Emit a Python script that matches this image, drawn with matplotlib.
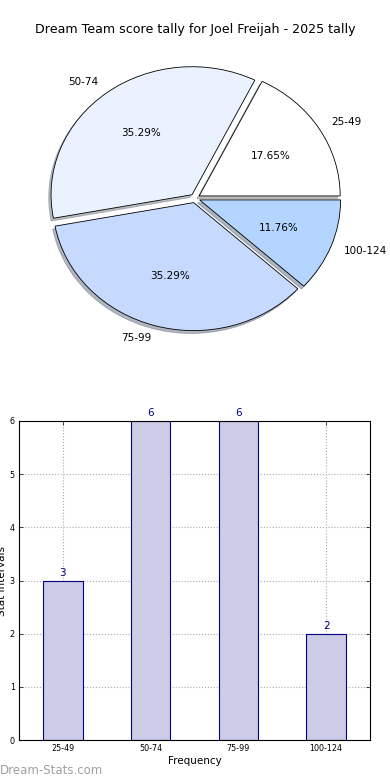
import matplotlib
matplotlib.use("Agg")
import matplotlib.pyplot as plt
import numpy as np

title = "Dream Team score tally for Joel Freijah - 2025 tally"
categories = ["25-49", "50-74", "75-99", "100-124"]
counts = [3, 6, 6, 2]
pie_colors = ["#FFFFFF", "#EAF1FF", "#C6D9FF", "#B3D5FF"]
yticks = [0, 1, 2, 3, 4, 5, 6]

W, H = 390, 780
fig = plt.figure(figsize=(W / 100, H / 100), dpi=100)

def box(l, t, r, b):
    return [l / W, 1 - b / H, (r - l) / W, (b - t) / H]

# ---- Pie ----
axp = fig.add_axes(box(0, 40, 390, 360))
rx, ry = 141.0, 128.0
cx, cy = 195.0, 198.3
axp.pie(counts, labels=categories, colors=pie_colors, autopct="%.2f%%",
        explode=[0.035] * 4,
        shadow=dict(ox=-0.012, oy=-0.016, shade=0.5),
        startangle=0, counterclock=True,
        wedgeprops=dict(edgecolor="black", linewidth=0.6),
        textprops=dict(fontsize=7.5))
axp.set_aspect("auto")
axp.set_xlim(-cx / rx, (W - cx) / rx)
axp.set_ylim(-(360 - cy) / ry, (cy - 40) / ry)
axp.axis("off")

fig.text(0.5, 1 - 30 / H, title, ha="center", va="center", fontsize=9.1)

# ---- Bar ----
axb = fig.add_axes(box(19, 421, 370, 740))
x = np.arange(len(categories))
bars = axb.bar(x, counts, width=0.45, color="#CCCCE6", edgecolor="#000080",
               linewidth=0.8, zorder=2)
for xi, v in zip(x, counts):
    axb.text(xi, v + 0.05, str(v), ha="center", va="bottom", fontsize=7.5,
             color="#000080")
axb.set_xlim(-0.5, 3.5)
axb.set_ylim(0, 6)
axb.set_xticks(x)
axb.set_xticklabels(categories, fontsize=5.8)
axb.set_yticks(yticks)
axb.set_yticklabels([str(t) for t in yticks], fontsize=5.8)
axb.tick_params(direction="in", length=3, width=0.5, top=True, right=True,
                pad=3, colors="black")
axb.grid(True, linestyle=":", color="#AAAAAA", linewidth=0.8, zorder=0)
axb.set_axisbelow(True)
for s in axb.spines.values():
    s.set_linewidth(0.8)
axb.set_xlabel("Frequency", fontsize=7.5, labelpad=2)
axb.set_ylabel("Stat Intervals", fontsize=7.5, labelpad=2)

fig.text(0, 1 - 770 / H, "Dream-Stats.com", ha="left", va="center",
         fontsize=8.5, color="#A0A0A0")

fig.savefig("out.png", dpi=100)
